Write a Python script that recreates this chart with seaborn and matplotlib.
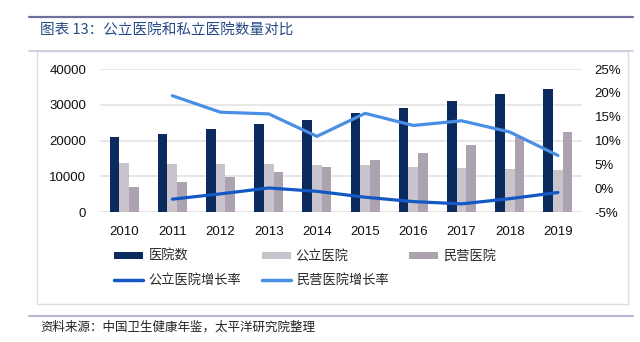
import matplotlib
matplotlib.use("Agg")
import matplotlib.pyplot as plt
import seaborn as sns
import pandas as pd
from matplotlib.lines import Line2D
from matplotlib.patches import Patch, Rectangle
from matplotlib.ticker import FuncFormatter

# ---- data ----
years = ["2010", "2011", "2012", "2013", "2014", "2015", "2016", "2017", "2018", "2019"]
total_hosp = [20918, 21979, 23170, 24709, 25860, 27587, 29140, 31056, 33009, 34354]
public_hosp = [13850, 13539, 13384, 13396, 13314, 13069, 12708, 12297, 12032, 11930]
private_hosp = [7068, 8440, 9786, 11313, 12546, 14518, 16432, 18759, 20977, 22424]
growth_years = ["2011", "2012", "2013", "2014", "2015", "2016", "2017", "2018", "2019"]
public_growth = [-2.25, -1.14, 0.09, -0.61, -1.84, -2.76, -3.23, -2.15, -0.85]
private_growth = [19.41, 15.95, 15.60, 10.90, 15.72, 13.18, 14.16, 11.82, 6.90]
left_ticks = [0, 10000, 20000, 30000, 40000]
right_ticks = [-5, 0, 5, 10, 15, 20, 25]

title = "图表 13：公立医院和私立医院数量对比"
source = "资料来源：中国卫生健康年鉴，太平洋研究院整理"
bar_names = ["医院数", "公立医院", "民营医院"]
line_names = ["公立医院增长率", "民营医院增长率"]

# ---- style ----
sns.set_theme(style="white")
plt.rcParams["font.family"] = ["Liberation Sans", "Noto Sans CJK SC", "DejaVu Sans"]
cjk = ["Noto Sans CJK SC", "DejaVu Sans"]

bar_colors = ["#0B2A5E", "#C9C4CB", "#ADA3B0"]
line_colors = ["#1358C4", "#4A8FE6"]

df = pd.DataFrame({
    "year": years * 3,
    "value": total_hosp + public_hosp + private_hosp,
    "series": [bar_names[0]] * len(years) + [bar_names[1]] * len(years) + [bar_names[2]] * len(years),
})
pos = [years.index(y) for y in growth_years]
gdf = pd.DataFrame({
    "x": pos * 2,
    "g": public_growth + private_growth,
    "series": [line_names[0]] * len(pos) + [line_names[1]] * len(pos),
})

fig = plt.figure(figsize=(6.4, 3.42), dpi=100)
ax = fig.add_axes([100 / 640, 1 - 212.3 / 342, 482 / 640, (212.3 - 69) / 342])

sns.barplot(data=df, x="year", y="value", hue="series", order=years,
            hue_order=bar_names, palette=bar_colors, width=0.6, gap=0,
            saturation=1, ax=ax, legend=False, linewidth=0, edgecolor="none")
ax.set_xlim(-0.5, len(years) - 0.5)
ax.set_ylim(0, 40000)
ax.set_yticks(left_ticks)
ax.set_xlabel("")
ax.set_ylabel("")
ax.grid(axis="y", color="#E3E3E3", linewidth=1.2)
ax.set_axisbelow(True)
for s in ax.spines.values():
    s.set_visible(False)
ax.tick_params(axis="y", length=0, pad=10, labelsize=9.5, colors="#111111")
ax.tick_params(axis="x", length=0, pad=10, labelsize=9.5, colors="#111111")

ax2 = ax.twinx()
sns.lineplot(data=gdf, x="x", y="g", hue="series", hue_order=line_names,
             palette=line_colors, linewidth=2.3, ax=ax2, legend=False)
ax2.set_xlim(-0.5, len(years) - 0.5)
ax2.set_ylim(-5, 25)
ax2.set_yticks(right_ticks)
ax2.yaxis.set_major_formatter(FuncFormatter(lambda v, p: f"{v:.0f}%"))
ax2.set_ylabel("")
ax2.set_xlabel("")
for s in ax2.spines.values():
    s.set_visible(False)
ax2.tick_params(axis="y", length=0, pad=9, labelsize=9.5, colors="#111111")

# ---- legend ----
handles = [
    Patch(facecolor=bar_colors[0], edgecolor="none"),
    Line2D([], [], color=line_colors[0], lw=2.5),
    Patch(facecolor=bar_colors[1], edgecolor="none"),
    Line2D([], [], color=line_colors[1], lw=2.5),
    Patch(facecolor=bar_colors[2], edgecolor="none"),
]
labels = [bar_names[0], line_names[0], bar_names[1], line_names[1], bar_names[2]]
fig.legend(handles, labels, loc="upper left", bbox_to_anchor=(114 / 640, 1 - 250 / 342),
           ncol=3, frameon=False, prop={"family": cjk, "size": 9.5},
           handlelength=2.2, handleheight=0.5, handletextpad=0.4,
           columnspacing=1.55, labelspacing=0.85, borderpad=0, borderaxespad=0)

# ---- frame decorations ----
fig.add_artist(Line2D([29 / 640, 633 / 640], [1 - 17 / 342] * 2, color="#6E6F9B", lw=1.6))
fig.add_artist(Rectangle((37 / 640, 1 - 304 / 342), (628 - 37) / 640, (304 - 51) / 342,
                         fill=False, edgecolor="#DDDDDD", lw=1.0))
fig.add_artist(Line2D([29 / 640, 633 / 640], [1 - 51 / 342] * 2, color="#C8C8DC", lw=1.2))
fig.add_artist(Line2D([29 / 640, 633 / 640], [1 - 315.5 / 342] * 2, color="#B9B9D3", lw=1.5))
fig.text(40 / 640, 1 - 31 / 342, title, family=cjk, fontsize=10.5, color="#264A86",
         va="center", ha="left")
fig.text(40 / 640, 1 - 327 / 342, source, family=cjk, fontsize=9, color="#222222",
         va="center", ha="left", style="italic")

fig.savefig("out.png", dpi=100)
